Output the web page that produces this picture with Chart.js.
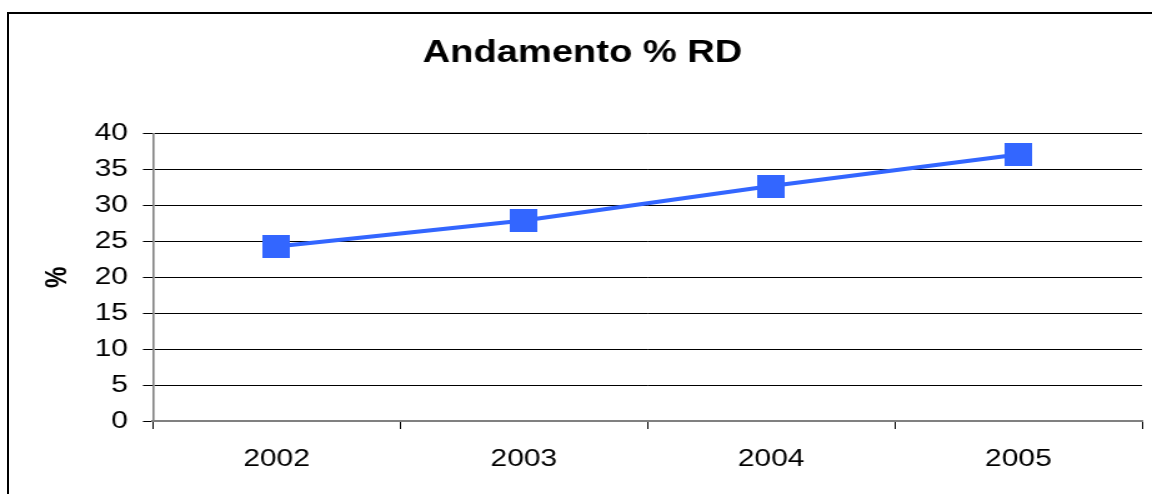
<!DOCTYPE html>
<html>
<head>
<meta charset="utf-8">
<script src="https://cdn.jsdelivr.net/npm/chart.js@4"></script>
<style>
  html, body { margin: 0; padding: 0; background: #fff; overflow: hidden; }
  #wrap { position: relative; width: 1152px; height: 494px; overflow: hidden; }
  /* il grafico originale e' stirato in orizzontale (~1.25x) */
  #rdChart { display: block; width: 1152px; height: 494px; }
  #frame {
    position: absolute; left: 7px; top: 12px; width: 1200px; height: 500px;
    border: 2px solid #000; pointer-events: none;
  }
</style>
</head>
<body>
<div id="wrap">
  <canvas id="rdChart" width="922" height="494" style="width:1152px;height:494px"></canvas>
  <div id="frame"></div>
</div>
<script>
// dati
const years = ["2002", "2003", "2004", "2005"];
const rdValues = [24.3, 27.9, 32.7, 37.1];
const yTicks = [0, 5, 10, 15, 20, 25, 30, 35, 40];

const FONT = "'Liberation Sans', Arial, sans-serif";
const BLUE = "#3366FF";

// marker quadrato (nello spazio del canvas, poi stirato)
const marker = document.createElement("canvas");
marker.width = 22;
marker.height = 23;
const mctx = marker.getContext("2d");
mctx.fillStyle = BLUE;
mctx.fillRect(0, 0, 22, 23);

const ctx = document.getElementById("rdChart");

new Chart(ctx, {
  type: "line",
  data: {
    labels: years,
    datasets: [
      {
        label: "% RD",
        data: rdValues,
        borderColor: BLUE,
        backgroundColor: BLUE,
        borderWidth: 4,
        pointStyle: marker,
        tension: 0,
        fill: false,
      },
    ],
  },
  options: {
    responsive: false,
    animation: false,
    devicePixelRatio: 1,
    layout: {
      padding: { left: 16, right: 5.6, top: 0, bottom: 0 },
    },
    plugins: {
      legend: { display: false },
      tooltip: { enabled: false },
      title: {
        display: true,
        text: "Andamento % RD",
        color: "#000",
        font: { family: FONT, size: 30.5, weight: "bold", lineHeight: 1.2 },
        padding: { top: 35, bottom: 62 },
      },
    },
    scales: {
      x: {
        type: "category",
        offset: true,
        grid: {
          offset: true,
          drawOnChartArea: false,
          drawTicks: true,
          tickLength: 8,
          color: "#000",
          lineWidth: 1,
        },
        border: { color: "#808080", width: 2 },
        ticks: {
          color: "#000",
          font: { family: FONT, size: 24 },
          padding: 16,
          maxRotation: 0,
        },
        afterFit: (scale) => {
          scale.height = 73;
          scale.paddingLeft = 0;
          scale.paddingRight = 0;
        },
      },
      y: {
        min: 0,
        max: 40,
        afterBuildTicks: (scale) => {
          scale.ticks = yTicks.map((v) => ({ value: v }));
        },
        grid: {
          color: "#000",
          lineWidth: 1,
          drawTicks: true,
          tickLength: 8,
        },
        border: { color: "#808080", width: 1.6 },
        ticks: {
          color: "#000",
          font: { family: FONT, size: 24 },
          padding: 12,
        },
        title: {
          display: true,
          text: "%",
          color: "#000",
          font: { family: FONT, size: 24, weight: "bold" },
          padding: { top: 16, bottom: 0 },
        },
        afterFit: (scale) => {
          scale.width = 106.4;
        },
      },
    },
  },
});
</script>
</body>
</html>
